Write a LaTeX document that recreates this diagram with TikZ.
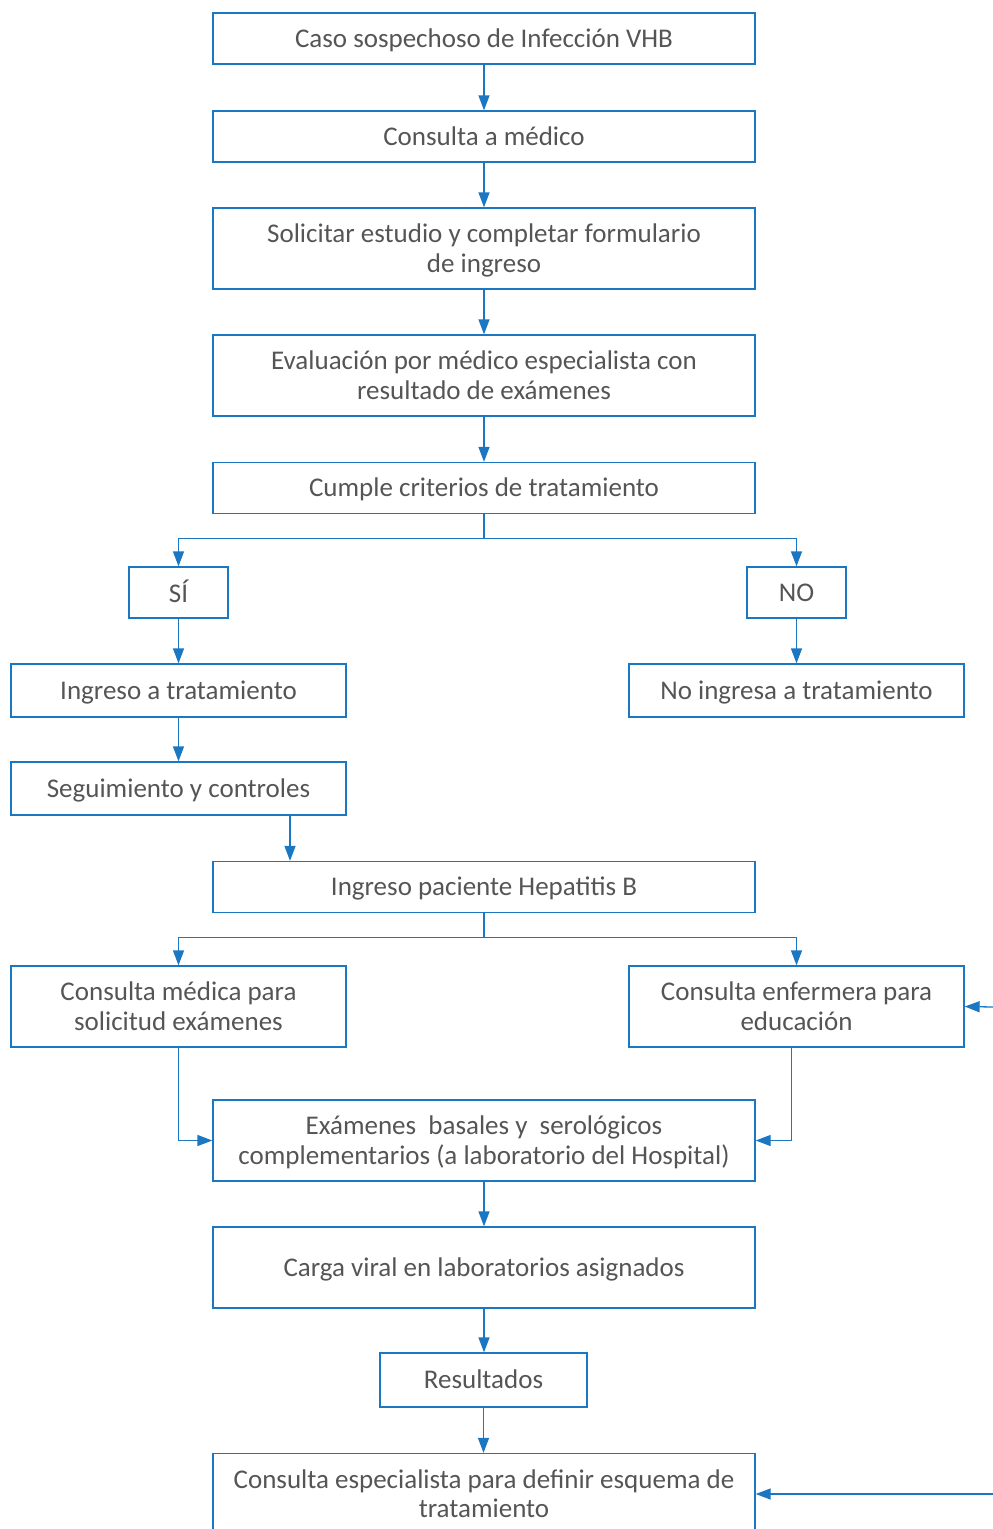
\documentclass[tikz,border=0pt]{standalone}
\usepackage{fontspec}
\setmainfont{Carlito}
\usetikzlibrary{arrows.meta}
\definecolor{lineblue}{HTML}{1C77C3}
\definecolor{txtgray}{HTML}{555555}
% box text: centred lines, set slightly low in the box
\newcommand\bt[1]{\raisebox{-3pt}[\height][\depth]{\begin{tabular}{@{}c@{}}#1\end{tabular}}}
\tikzset{
  box/.style={draw=lineblue, line width=1.3pt, rectangle, inner sep=0pt,
    text=txtgray, align=center, font=\fontsize{27}{29.5}\selectfont},
  wide/.style={box, minimum width=542pt},
  half/.style={box, minimum width=335pt},
  small/.style={box, minimum width=99pt, minimum height=51pt},
  h1/.style={minimum height=51pt},
  h2/.style={minimum height=81pt},
  h3/.style={minimum height=53pt},
  conn/.style={draw=lineblue, line width=1.3pt, -{Triangle[length=15pt,width=11pt]}},
  plain/.style={draw=lineblue, line width=1.3pt}
}
\begin{document}
\begin{tikzpicture}[x=1pt,y=-1pt]
\useasboundingbox (0,0) rectangle (993,1529);
\clip (0,0) rectangle (993,1529);

\node[wide,h1] (caso) at (484,38.5) {\bt{Caso sospechoso de Infección VHB}};
\node[wide,h1] (medico) at (484,136.5) {\bt{Consulta a médico}};
\node[wide,h2] (solicitar) at (484,248.5) {\bt{Solicitar estudio y completar formulario\\de ingreso}};
\node[wide,h2] (evaluacion) at (484,375.5) {\bt{Evaluación por médico especialista con\\resultado de exámenes}};
\node[wide,h1] (cumple) at (484,488) {\bt{Cumple criterios de tratamiento}};

\node[small] (si) at (178.5,592.5) {\bt{SÍ}};
\node[small] (no) at (796.5,592.5) {\bt{NO}};

\node[half,h3] (ingreso) at (178.5,690.5) {\bt{Ingreso a tratamiento}};
\node[half,h3] (noingresa) at (796.5,690.5) {\bt{No ingresa a tratamiento}};
\node[half,h3] (seguimiento) at (178.5,788.5) {\bt{Seguimiento y controles}};

\node[wide,h1] (paciente) at (484,887) {\bt{Ingreso paciente Hepatitis B}};

\node[half,h2] (cmedica) at (178.5,1006.5) {\bt{Consulta médica para\\solicitud exámenes}};
\node[half,h2] (cenfermera) at (796.5,1006.5) {\bt{Consulta enfermera para\\educación}};

\node[wide,h2] (examenes) at (484,1140.5) {\bt{Exámenes\ \ basales y\ \ serológicos\\complementarios (a laboratorio del Hospital)}};
\node[wide,h2] (carga) at (484,1267.5) {\bt{Carga viral en laboratorios asignados}};
\node[box, minimum width=207pt, minimum height=54pt] (resultados) at (483.5,1380) {\bt{Resultados}};
\node[wide,h2] (especialista) at (484,1494) {\bt{Consulta especialista para definir esquema de\\tratamiento}};

\coordinate (inA) at (993,1007);
\coordinate (inB) at (993,1494);

% main column
\draw[conn] (caso.south) -- (medico.north);
\draw[conn] (medico.south) -- (solicitar.north);
\draw[conn] (solicitar.south) -- (evaluacion.north);
\draw[conn] (evaluacion.south) -- (cumple.north);

% treatment decision
\draw[plain] (cumple.south) -- ++(0,24) coordinate (splitA);
\draw[conn] (splitA) -| (si.north);
\draw[conn] (splitA) -| (no.north);
\draw[conn] (si.south) -- (si.south |- ingreso.north);
\draw[conn] (no.south) -- (no.south |- noingresa.north);
\draw[conn] (ingreso.south) -- (ingreso.south |- seguimiento.north);
\draw[conn] ([xshift=111.5pt]seguimiento.south) -- ([xshift=111.5pt]seguimiento.south |- paciente.north);

% patient admission
\draw[plain] (paciente.south) -- ++(0,24) coordinate (splitB);
\draw[conn] (splitB) -| (cmedica.north);
\draw[conn] (splitB) -| (cenfermera.north);
\draw[conn] (cmedica.south) |- (examenes.west);
\draw[conn] ([xshift=-5pt]cenfermera.south) |- (examenes.east);
\draw[conn] (inA) -- (cenfermera.east);

\draw[conn] (examenes.south) -- (carga.north);
\draw[conn] (carga.south) -- (carga.south |- resultados.north);
\draw[conn] (resultados.south) -- (resultados.south |- especialista.north);
\draw[conn] (inB) -- (especialista.east);
\end{tikzpicture}
\end{document}
